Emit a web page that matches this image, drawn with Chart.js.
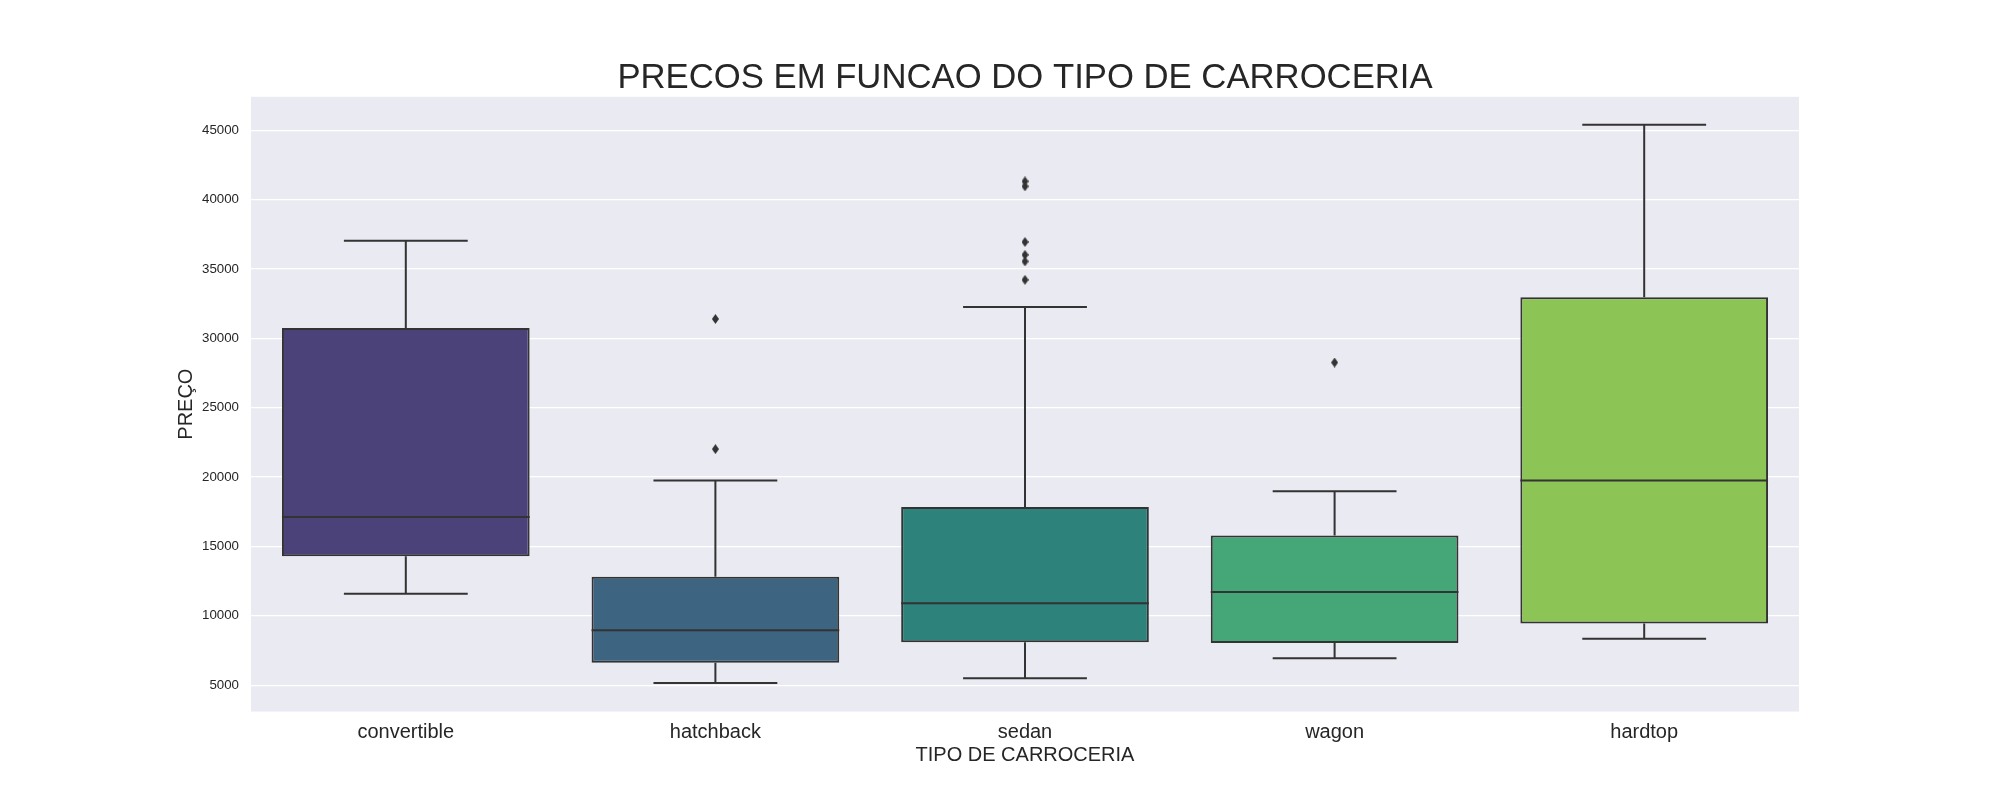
<!DOCTYPE html>
<html>
<head>
<meta charset="utf-8">
<script src="https://cdn.jsdelivr.net/npm/chart.js@4.4.1/dist/chart.umd.min.js"></script>
<style>
  html, body { margin: 0; padding: 0; background: #ffffff; }
  canvas { display: block; }
</style>
</head>
<body>
<canvas id="chart" width="2000" height="800" style="width:2000px;height:800px"></canvas>
<script>
// ---- data ----
const categories = ['convertible', 'hatchback', 'sedan', 'wagon', 'hardtop'];
const whiskerLow  = [11595, 5150, 5500, 6950, 8340];
const q1          = [14300, 6610, 8100, 8040, 9440];
const median      = [17130, 8960, 10900, 11710, 19750];
const q3          = [30750, 12810, 17850, 15790, 32960];
const whiskerHigh = [37030, 19750, 32270, 18980, 45400];
const outlierCategory = ['hatchback', 'hatchback', 'sedan', 'sedan', 'sedan', 'sedan', 'sedan', 'sedan', 'wagon'];
const outlierValue    = [31400, 22020, 41320, 40960, 36950, 36020, 35550, 34220, 28260];
const yTickValues = [5000, 10000, 15000, 20000, 25000, 30000, 35000, 40000, 45000];
const yMin = 3104;
const yMax = 47414;

// ---- styles ----
const boxColors = ['#4a4278', '#3d6480', '#2d827b', '#45a777', '#8dc456'];
const lineColor = '#333333';
const textColor = '#262626';
const FONT = '"Liberation Sans", Arial, Helvetica, sans-serif';

Chart.defaults.font.family = FONT;
Chart.defaults.color = textColor;

function diamondImage(w, h, color) {
  const c = document.createElement('canvas');
  c.width = w; c.height = h;
  const g = c.getContext('2d');
  g.fillStyle = color;
  g.beginPath();
  g.moveTo(w / 2, 0);
  g.lineTo(w, h / 2);
  g.lineTo(w / 2, h);
  g.lineTo(0, h / 2);
  g.closePath();
  g.fill();
  return c;
}
const diamond = diamondImage(7, 10, lineColor);

const backgroundPlugin = {
  id: 'bgPlugin',
  beforeDraw(chart) {
    const { ctx, chartArea: a } = chart;
    ctx.save();
    ctx.fillStyle = '#ffffff';
    ctx.fillRect(0, 0, chart.width, chart.height);
    ctx.fillStyle = '#eaeaf2';
    ctx.fillRect(a.left, a.top, a.right - a.left, a.bottom - a.top);
    ctx.restore();
  }
};

const boxLinesPlugin = {
  id: 'boxLines',
  afterDatasetsDraw(chart) {
    const { ctx } = chart;
    const x = chart.scales.x, y = chart.scales.y;
    const cw = x.getPixelForValue(1) - x.getPixelForValue(0);
    ctx.save();
    ctx.strokeStyle = lineColor;
    ctx.lineWidth = 2;
    ctx.lineCap = 'butt';
    categories.forEach((c, i) => {
      const cx = x.getPixelForValue(i);
      const yLo = y.getPixelForValue(whiskerLow[i]);
      const yQ1 = y.getPixelForValue(q1[i]);
      const yMed = y.getPixelForValue(median[i]);
      const yQ3 = y.getPixelForValue(q3[i]);
      const yHi = y.getPixelForValue(whiskerHigh[i]);
      ctx.beginPath();
      // whiskers
      ctx.moveTo(cx, yQ3); ctx.lineTo(cx, yHi);
      ctx.moveTo(cx, yQ1); ctx.lineTo(cx, yLo);
      // caps
      ctx.moveTo(cx - cw * 0.2, yHi); ctx.lineTo(cx + cw * 0.2, yHi);
      ctx.moveTo(cx - cw * 0.2, yLo); ctx.lineTo(cx + cw * 0.2, yLo);
      // median
      ctx.moveTo(cx - cw * 0.4, yMed); ctx.lineTo(cx + cw * 0.4, yMed);
      ctx.stroke();
    });
    ctx.restore();
  }
};

new Chart(document.getElementById('chart'), {
  type: 'bar',
  data: {
    labels: categories,
    datasets: [
      {
        type: 'line',
        label: 'outliers',
        data: outlierCategory.map((c, i) => ({ x: c, y: outlierValue[i] })),
        showLine: false,
        pointStyle: diamond,
        pointRadius: 5,
        pointHoverRadius: 5,
        borderColor: lineColor,
        backgroundColor: lineColor
      },
      {
        type: 'bar',
        label: 'box',
        data: q1.map((v, i) => [v, q3[i]]),
        backgroundColor: boxColors,
        borderColor: lineColor,
        borderWidth: 2,
        borderSkipped: false,
        barPercentage: 0.8,
        categoryPercentage: 1.0
      }
    ]
  },
  options: {
    responsive: false,
    animation: false,
    devicePixelRatio: 1,
    layout: { padding: { left: 0, right: 201, top: 0, bottom: 0 } },
    plugins: {
      legend: { display: false },
      tooltip: { enabled: false },
      title: {
        display: true,
        text: 'PRECOS EM FUNCAO DO TIPO DE CARROCERIA',
        fullSize: false,
        color: textColor,
        font: { size: 34.7, weight: 'normal', family: FONT, lineHeight: 1.0 },
        padding: { top: 61, bottom: 1.1 }
      }
    },
    scales: {
      x: {
        type: 'category',
        offset: true,
        afterFit: (s) => { s.height = 88.5; },
        grid: { display: false, drawTicks: false },
        border: { display: false },
        ticks: { color: textColor, font: { size: 20, family: FONT }, padding: 8.5, maxRotation: 0 },
        title: {
          display: true,
          text: 'TIPO DE CARROCERIA',
          color: textColor,
          font: { size: 20, family: FONT, lineHeight: 1.2 },
          padding: { top: 0, bottom: 33 }
        }
      },
      y: {
        type: 'linear',
        min: yMin,
        max: yMax,
        afterBuildTicks: (s) => { s.ticks = yTickValues.map(v => ({ value: v })); },
        afterFit: (s) => { s.width = 251; },
        grid: { color: '#ffffff', lineWidth: 1.3, drawTicks: false },
        border: { display: false },
        ticks: {
          color: textColor,
          font: { size: 13.3, family: FONT },
          padding: 12,
          callback: (v) => String(v)
        },
        title: {
          display: true,
          text: 'PREÇO',
          color: textColor,
          font: { size: 20, family: FONT, lineHeight: 1.2 },
          padding: { top: 174, bottom: 0 }
        }
      }
    }
  },
  plugins: [backgroundPlugin, boxLinesPlugin]
});
</script>
</body>
</html>
